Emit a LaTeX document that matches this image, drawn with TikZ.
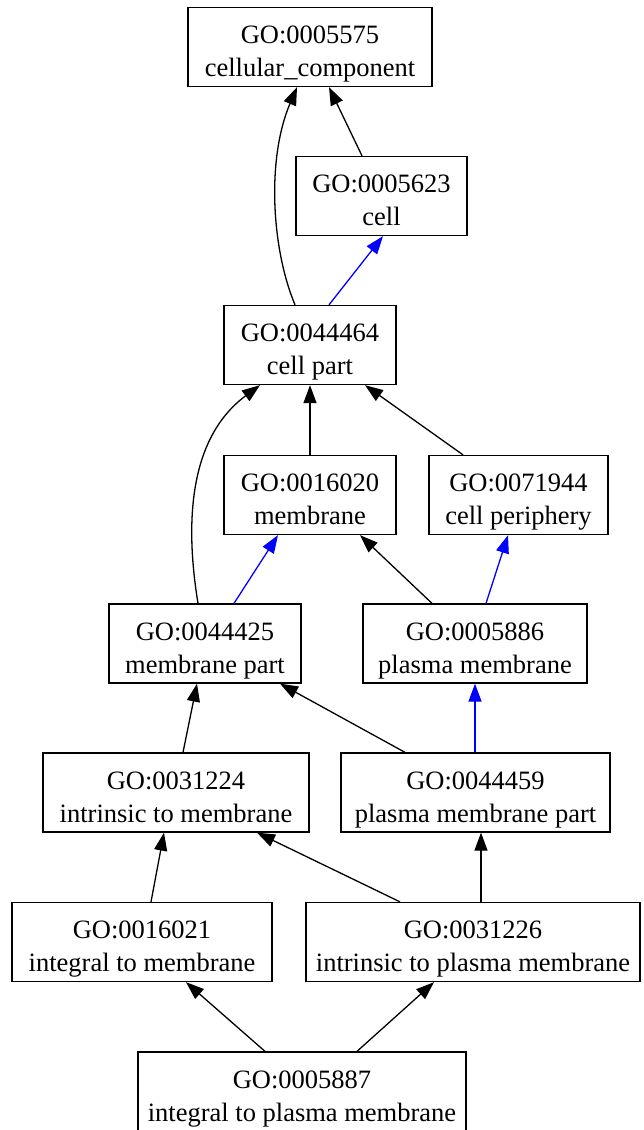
\documentclass[tikz,border=0pt]{standalone}
\usepackage{fontspec}
\setmainfont{Liberation Serif}
\usetikzlibrary{arrows.meta}
\newcommand{\goterm}[2]{\raisebox{-13pt}[0pt][0pt]{\begin{tabular}{@{}c@{}}#1\\#2\end{tabular}}}
\begin{document}
\begin{tikzpicture}[x=1pt,y=-1pt,
  term/.style={draw, line width=1.3pt, rectangle, inner sep=0pt, minimum height=79pt, align=center,
    font=\fontsize{26.5}{33}\selectfont},
  isa/.style={line width=1.3pt, -{Triangle[length=18pt,width=13pt]}},
  partof/.style={isa, blue}]
\useasboundingbox (0,0) rectangle (644,1130);
\clip (0,0) rectangle (644,1130);
\node[term, minimum width=244pt] (n5575) at (310,47) {\goterm{GO:0005575}{cellular\_component}};
\node[term, minimum width=171pt] (n5623) at (381.5,196) {\goterm{GO:0005623}{cell}};
\node[term, minimum width=172pt] (n44464) at (310,345) {\goterm{GO:0044464}{cell part}};
\node[term, minimum width=172pt] (n16020) at (310,495) {\goterm{GO:0016020}{membrane}};
\node[term, minimum width=179pt] (n71944) at (518.5,495) {\goterm{GO:0071944}{cell periphery}};
\node[term, minimum width=192pt] (n44425) at (205,643.5) {\goterm{GO:0044425}{membrane part}};
\node[term, minimum width=224pt] (n5886) at (475,643.5) {\goterm{GO:0005886}{plasma membrane}};
\node[term, minimum width=266pt] (n31224) at (176,792.5) {\goterm{GO:0031224}{intrinsic to membrane}};
\node[term, minimum width=269pt] (n44459) at (475.5,792.5) {\goterm{GO:0044459}{plasma membrane part}};
\node[term, minimum width=260pt] (n16021) at (142,942) {\goterm{GO:0016021}{integral to membrane}};
\node[term, minimum width=334pt] (n31226) at (473,942) {\goterm{GO:0031226}{intrinsic to plasma membrane}};
\node[term, minimum width=328pt] (n5887) at (302,1091.5) {\goterm{GO:0005887}{integral to plasma membrane}};

\draw[isa] ([xshift=-19.5pt]n5623.north) -- ([xshift=19pt]n5575.south);
\draw[isa] ([xshift=-15pt]n44464.north) .. controls (272,250) and (266,160) .. ([xshift=-13pt]n5575.south);
\draw[partof] ([xshift=19pt]n44464.north) -- ([xshift=1.5pt]n5623.south);
\draw[isa] (n16020.north) -- (n44464.south);
\draw[isa] ([xshift=-55.5pt]n71944.north) -- ([xshift=55pt]n44464.south);
\draw[isa] ([xshift=-7pt]n44425.north) .. controls (186,530) and (186,440) .. ([xshift=-50pt]n44464.south);
\draw[partof] ([xshift=29pt]n44425.north) -- ([xshift=-32pt]n16020.south);
\draw[isa] ([xshift=-43pt]n5886.north) -- ([xshift=50pt]n16020.south);
\draw[partof] ([xshift=11pt]n5886.north) -- ([xshift=-10.5pt]n71944.south);
\draw[isa] ([xshift=7pt]n31224.north) -- ([xshift=-8pt]n44425.south);
\draw[isa] ([xshift=-70.5pt]n44459.north) -- ([xshift=75pt]n44425.south);
\draw[partof] ([xshift=-0.5pt]n44459.north) -- (n5886.south);
\draw[isa] ([xshift=9pt]n16021.north) -- ([xshift=-12pt]n31224.south);
\draw[isa] ([xshift=-73pt]n31226.north) -- ([xshift=81pt]n31224.south);
\draw[isa] ([xshift=8pt]n31226.north) -- ([xshift=5.5pt]n44459.south);
\draw[isa] ([xshift=-37pt]n5887.north) -- ([xshift=44pt]n16021.south);
\draw[isa] ([xshift=55pt]n5887.north) -- ([xshift=-39pt]n31226.south);
\end{tikzpicture}
\end{document}
